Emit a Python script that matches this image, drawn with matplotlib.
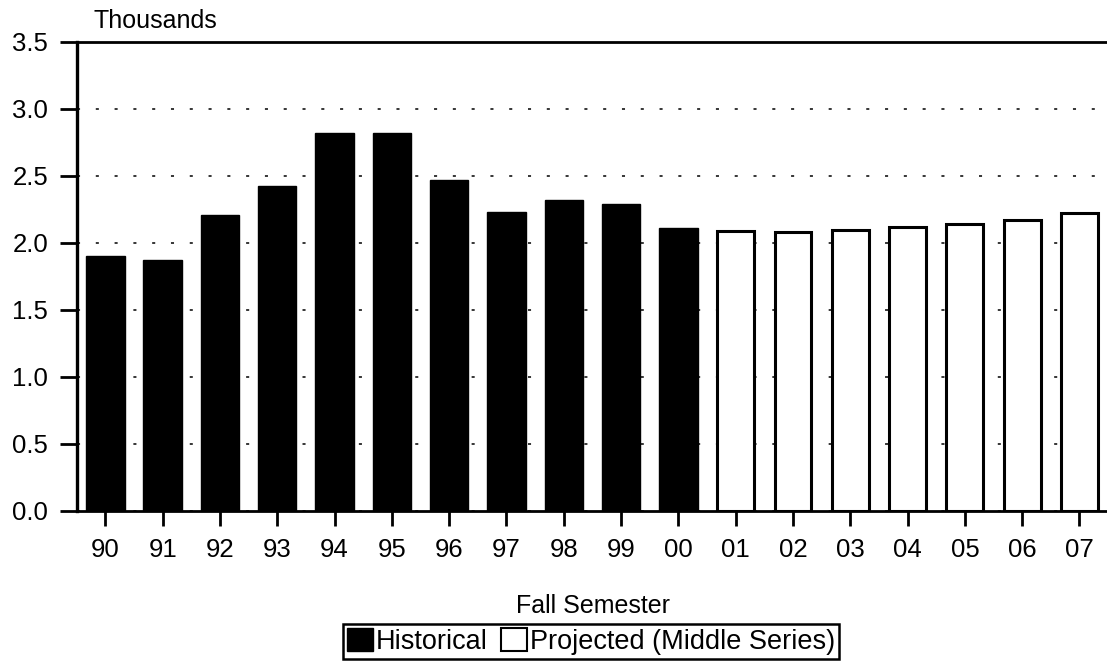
import numpy as np
import matplotlib
matplotlib.use('Agg')
import matplotlib.pyplot as plt
from matplotlib.patches import Patch

plt.rcParams['font.family'] = ['Liberation Sans', 'DejaVu Sans']

# values (thousands)
hist_years = ['90', '91', '92', '93', '94', '95', '96', '97', '98', '99', '00']
hist_values = [1.90, 1.87, 2.21, 2.42, 2.82, 2.82, 2.47, 2.23, 2.32, 2.29, 2.11]
proj_years = ['01', '02', '03', '04', '05', '06', '07']
proj_values = [2.09, 2.08, 2.095, 2.115, 2.14, 2.17, 2.22]

years = hist_years + proj_years
x_hist = np.arange(len(hist_years))
x_proj = np.arange(len(hist_years), len(years))

fig = plt.figure(figsize=(11.07, 6.67), dpi=100)
ax = fig.add_axes([0.0698, 0.2343, 0.9302, 0.7031])

ax.bar(x_hist, hist_values, width=0.67, color='black', edgecolor='black', linewidth=1, zorder=3)
ax.bar(x_proj, proj_values, width=0.645, color='white', edgecolor='black', linewidth=2.2, zorder=3)

ax.set_xlim(-0.49, 17.48)
ax.set_ylim(0, 3.5)
ax.set_yticks(np.arange(0, 3.51, 0.5))
ax.set_yticklabels(['%.1f' % v for v in np.arange(0, 3.51, 0.5)])
ax.set_xticks(np.arange(len(years)))
ax.set_xticklabels(years)

# sparse dotted grid behind the bars
ax.set_axisbelow(True)
ax.yaxis.grid(True, color='black', linewidth=1.1, linestyle=(0, (2, 10.3)), zorder=1)

ax.spines['right'].set_visible(False)
ax.spines['left'].set_linewidth(2.4)
ax.spines['top'].set_linewidth(2)
ax.spines['bottom'].set_linewidth(2)

ax.tick_params(axis='y', length=12, width=2, pad=9, labelsize=18.5)
ax.tick_params(axis='x', length=11, width=2, pad=9, labelsize=18.5)

fig.text(93 / 1107, 1 - 28 / 667, 'Thousands', fontsize=18, va='baseline')
fig.text(593 / 1107, 1 - 613 / 667, 'Fall Semester', fontsize=18, ha='center', va='baseline')

handles = [Patch(facecolor='black', edgecolor='black', label='Historical'),
           Patch(facecolor='white', edgecolor='black', linewidth=1.5, label='Projected (Middle Series)')]
leg = fig.legend(handles=handles, loc='upper center', bbox_to_anchor=(591 / 1107, 1 - 624 / 667),
                 ncol=2, fontsize=19.5, frameon=True, fancybox=False, framealpha=1,
                 handlelength=0.95, handleheight=0.95, handletextpad=0.1, columnspacing=0.5,
                 borderpad=0.15, borderaxespad=0)
leg.get_frame().set_edgecolor('black')
leg.get_frame().set_linewidth(1.8)

plt.savefig('out.png', dpi=100)
